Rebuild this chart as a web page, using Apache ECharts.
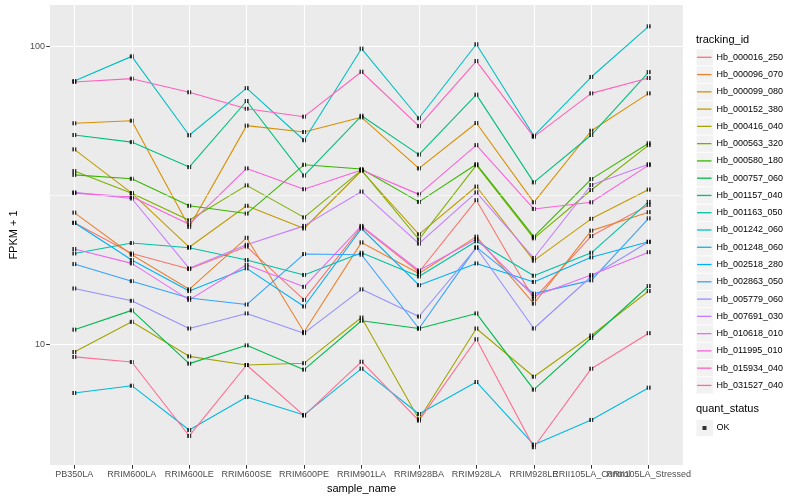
<!DOCTYPE html>
<html><head><meta charset="utf-8">
<script src="https://cdn.jsdelivr.net/npm/echarts@6/dist/echarts.min.js"></script>
<style>html,body{margin:0;padding:0;background:#fff}#c{width:800px;height:500px}</style>
</head><body><div id="c"></div>
<script>
const categories = ['PB350LA','RRIM600LA','RRIM600LE','RRIM600SE','RRIM600PE','RRIM901LA','RRIM928BA','RRIM928LA','RRIM928LE','RRII105LA_Control','RRII105LA_Stressed'];

const Hb_000016_250 = [25.6, 20.2, 17.9, 21.3, 14.1, 24.8, 17.5, 30.5, 14.2, 23.1, 29.4];
const Hb_000096_070 = [27.7, 20.0, 15.3, 22.8, 11.0, 22.0, 17.3, 23.0, 13.7, 24.1, 27.8];
const Hb_000099_080 = [55.3, 56.4, 24.8, 54.3, 51.7, 57.9, 39.0, 55.4, 30.0, 52.2, 69.7];
const Hb_000152_380 = [45.2, 32.2, 21.2, 29.2, 24.5, 38.3, 23.4, 33.9, 19.1, 26.4, 33.1];
const Hb_000416_040 = [9.42, 11.9, 9.11, 8.52, 8.64, 12.3, 5.60, 11.3, 7.78, 10.7, 15.1];
const Hb_000563_320 = [38.2, 32.2, 26.1, 34.2, 26.7, 38.5, 22.5, 40.0, 22.7, 33.0, 46.7];
const Hb_000580_180 = [37.1, 36.0, 29.2, 27.5, 40.1, 38.8, 30.1, 40.3, 23.0, 35.9, 47.4];
const Hb_000757_060 = [11.2, 13.0, 8.61, 9.92, 8.22, 12.0, 11.3, 12.7, 7.04, 10.5, 15.7];
const Hb_001157_040 = [50.5, 47.8, 39.4, 65.7, 36.9, 58.6, 43.4, 69.0, 35.0, 50.5, 82.2];
const Hb_001163_050 = [20.2, 21.9, 21.1, 19.2, 17.1, 20.3, 16.9, 22.2, 17.0, 20.3, 30.1];
const Hb_001242_060 = [76.7, 92.8, 50.4, 72.6, 48.5, 98.5, 57.5, 101.9, 50.2, 79.1, 117.1];
const Hb_001248_060 = [6.86, 7.26, 5.15, 6.65, 5.79, 8.28, 5.83, 7.47, 4.60, 5.57, 7.15];
const Hb_002518_280 = [25.6, 19.2, 15.1, 18.0, 13.4, 24.5, 15.8, 18.7, 16.2, 19.6, 22.1];
const Hb_002863_050 = [18.6, 16.3, 14.3, 13.6, 20.1, 20.0, 11.3, 21.2, 14.8, 16.4, 26.5];
const Hb_005779_060 = [15.4, 14.0, 11.3, 12.7, 10.9, 15.3, 12.4, 21.1, 11.3, 16.9, 22.1];
const Hb_007691_030 = [32.4, 30.9, 18.0, 21.6, 25.0, 32.6, 21.8, 32.4, 19.5, 34.3, 40.3];
const Hb_010618_010 = [20.9, 18.7, 14.1, 18.5, 15.6, 25.0, 17.7, 22.6, 14.5, 17.1, 20.4];
const Hb_011995_010 = [32.2, 31.3, 25.3, 39.0, 33.2, 38.5, 31.9, 46.7, 28.5, 30.0, 40.0];
const Hb_015934_040 = [76.1, 78.1, 70.3, 61.9, 58.2, 82.4, 54.1, 89.5, 49.8, 69.7, 78.5];
const Hb_031527_040 = [9.07, 8.72, 4.92, 8.52, 5.76, 8.74, 5.54, 10.4, 4.51, 8.28, 10.9];

const trackingIds = ['Hb_000016_250','Hb_000096_070','Hb_000099_080','Hb_000152_380','Hb_000416_040','Hb_000563_320','Hb_000580_180','Hb_000757_060','Hb_001157_040','Hb_001163_050','Hb_001242_060','Hb_001248_060','Hb_002518_280','Hb_002863_050','Hb_005779_060','Hb_007691_030','Hb_010618_010','Hb_011995_010','Hb_015934_040','Hb_031527_040'];
const seriesValues = [Hb_000016_250,Hb_000096_070,Hb_000099_080,Hb_000152_380,Hb_000416_040,Hb_000563_320,Hb_000580_180,Hb_000757_060,Hb_001157_040,Hb_001163_050,Hb_001242_060,Hb_001248_060,Hb_002518_280,Hb_002863_050,Hb_005779_060,Hb_007691_030,Hb_010618_010,Hb_011995_010,Hb_015934_040,Hb_031527_040];
const colors = ['#F8766D','#EA8331','#D89000','#C09B00','#A3A500','#7CAE00','#39B600','#00BB4E','#00BF7D','#00C1A3','#00BFC4','#00BAE0','#00B0F6','#35A2FF','#9590FF','#C77CFF','#E76BF3','#FA62DB','#FF62BC','#FF6C91'];
const yTicks = [10, 100];
const yMinorBreaks = [31.6228];
const quantStatus = ['OK'];

const FONT = '"Liberation Sans", Arial, Helvetica, sans-serif';
const yMin = 3.93, yMax = 138.1;

const chart = echarts.init(document.getElementById('c'), null, {renderer: 'canvas'});

const lineSeries = trackingIds.map((id, i) => ({
  name: id, type: 'line', xAxisIndex: 1, yAxisIndex: 1,
  data: seriesValues[i], showSymbol: false, symbol: 'none',
  color: colors[i],
  lineStyle: {color: colors[i], width: 1.1},
  itemStyle: {color: colors[i]},
  z: 3, silent: true
}));

const pts = [];
seriesValues.forEach(arr => arr.forEach((v, j) => pts.push([j, v])));

const isTick = v => yTicks.some(t => Math.abs(v - t) / t < 1e-6);

const legendY0 = 57.3, legendStep = 17.27;
const graphics = [
  {type: 'text', left: 696, top: 34, style: {text: 'tracking_id', fontSize: 11, fontFamily: FONT, fill: '#000'}},
  {type: 'text', left: 696, top: 403.5, style: {text: 'quant_status', fontSize: 11, fontFamily: FONT, fill: '#000'}},
  {type: 'rect', shape: {x: 696.5, y: 428 - 8.15, width: 16.5, height: 16.3}, style: {fill: '#F2F2F2'}, z: 0}
];
trackingIds.forEach((id, i) => {
  graphics.push({type: 'rect', shape: {x: 696.5, y: legendY0 + legendStep * i - 8.15, width: 16.5, height: 16.3}, style: {fill: '#F2F2F2'}, z: 0});
});

const option = {
  animation: false,
  backgroundColor: '#fff',
  textStyle: {fontFamily: FONT},
  grid: [
    {left: 40, right: 117, top: 5, bottom: 35, show: true, backgroundColor: '#EBEBEB', borderWidth: 0},
    {left: 45.6, right: 122.6, top: 5, bottom: 35}
  ],
  xAxis: [
    {type: 'value', gridIndex: 0, min: 0, max: 1, show: false},
    {type: 'category', gridIndex: 1, data: categories, boundaryGap: true,
     axisLine: {show: false},
     axisTick: {show: true, alignWithLabel: true, length: 3.7, lineStyle: {color: '#333', width: 1}},
     axisLabel: {color: '#4D4D4D', fontSize: 9, fontFamily: FONT, margin: 5, interval: 0, hideOverlap: false},
     splitLine: {show: false},
     name: 'sample_name', nameLocation: 'middle', nameGap: 17,
     nameTextStyle: {color: '#000', fontSize: 11, fontFamily: FONT}}
  ],
  yAxis: [
    {type: 'log', logBase: 10, gridIndex: 0, min: yMin, max: yMax,
     axisLine: {show: false},
     axisTick: {show: true, length: 3.7, lineStyle: {color: '#333', width: 1}},
     axisLabel: {color: '#4D4D4D', fontSize: 9, fontFamily: FONT, margin: 5,
                 showMinLabel: false, showMaxLabel: false,
                 formatter: v => isTick(v) ? String(Math.round(v)) : ''},
     splitLine: {show: true, showMinLine: false, showMaxLine: false, lineStyle: {color: '#fff', width: 1.1}},
     name: 'FPKM + 1', nameLocation: 'middle', nameGap: 22, nameRotate: 90,
     nameTextStyle: {color: '#000', fontSize: 11, fontFamily: FONT}},
    {type: 'log', logBase: 10, gridIndex: 1, min: yMin, max: yMax, show: false}
  ],
  legend: [
    {orient: 'vertical', left: 697, top: legendY0 - legendStep / 2, padding: 0, itemGap: 0,
     itemWidth: 14.5, itemHeight: 1.3, icon: 'rect', selectedMode: false,
     data: trackingIds.map((id, i) => ({name: id, itemStyle: {color: colors[i], borderWidth: 0}})),
     textStyle: {fontSize: 9, color: '#000', fontFamily: FONT, lineHeight: legendStep}},
    {orient: 'vertical', left: 702.5, top: 428 - 6, padding: 0, itemGap: 0,
     itemWidth: 4, itemHeight: 4, icon: 'rect', selectedMode: false,
     data: quantStatus.map(q => ({name: q, itemStyle: {color: '#000', borderWidth: 0}})),
     textStyle: {fontSize: 9, color: '#000', fontFamily: FONT, lineHeight: 12, padding: [0, 0, 0, 5]}}
  ],
  graphic: graphics,
  series: [
    {type: 'line', xAxisIndex: 0, yAxisIndex: 0, data: [[0.5, yMinorBreaks[0]]], symbol: 'none', showSymbol: false,
     lineStyle: {width: 0, opacity: 0}, z: 1, silent: true,
     markLine: {silent: true, animation: false, symbol: ['none', 'none'], label: {show: false},
                lineStyle: {color: '#fff', width: 0.55, type: 'solid'},
                data: yMinorBreaks.map(v => ({yAxis: v}))}},
    {type: 'line', xAxisIndex: 1, yAxisIndex: 1, data: [[0, yMinorBreaks[0]]], symbol: 'none', showSymbol: false,
     lineStyle: {width: 0, opacity: 0}, z: 1, silent: true,
     markLine: {silent: true, animation: false, symbol: ['none', 'none'], label: {show: false},
                lineStyle: {color: '#fff', width: 1.1, type: 'solid'},
                data: categories.map(c => ({xAxis: c}))}},
    ...lineSeries,
    {name: 'OK', type: 'scatter', xAxisIndex: 1, yAxisIndex: 1, data: pts,
     symbol: 'rect', symbolSize: 4, itemStyle: {color: '#000'}, z: 4, silent: true}
  ]
};
chart.setOption(option);
</script>
</body></html>
